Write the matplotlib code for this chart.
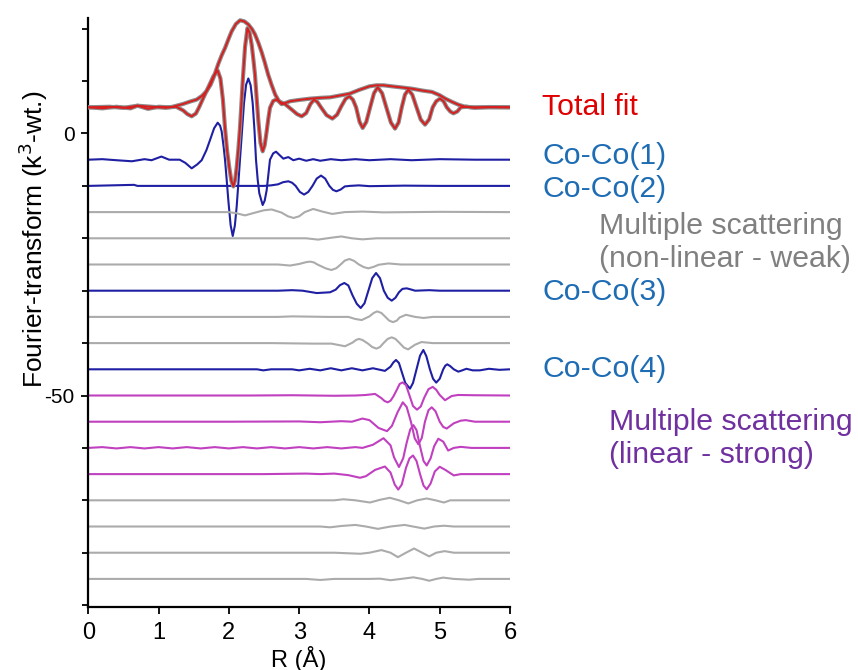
import matplotlib
matplotlib.use('Agg')
import matplotlib.pyplot as plt

plt.rcParams['font.family'] = ['Liberation Sans', 'DejaVu Sans']
plt.rcParams['axes.unicode_minus'] = False

# total fit: magnitude and imaginary part (offset +5)
mag_r = [0, 0.3, 0.5, 0.7, 0.9, 1.1, 1.2, 1.35, 1.45, 1.54, 1.62, 1.68, 1.74, 1.78, 1.85, 1.9, 1.945,
         2.0, 2.04, 2.1, 2.16, 2.22, 2.277, 2.33, 2.372, 2.42, 2.467, 2.51, 2.56, 2.61, 2.66, 2.72,
         2.75, 2.8, 2.87, 3.0, 3.155, 3.3, 3.44, 3.6, 3.72, 3.85, 4.0, 4.1, 4.2, 4.32, 4.45, 4.6,
         4.75, 4.89, 5.0, 5.08, 5.18, 5.265, 5.35, 5.45, 5.7, 6.0]
mag_y = [0, 0.1, -0.1, 0.3, 0.1, -0.1, 0.1, 0.64, 1.1, 1.46, 2.2, 3.05, 4.3, 5.6, 8.3, 10.0, 11.3,
         13.2, 14.5, 15.9, 16.6, 16.4, 15.8, 14.9, 13.9, 12.3, 10.5, 8.6, 6.2, 4.2, 2.4, 1.0,
         0.6, 0.8, 1.15, 1.4, 1.65, 1.8, 1.9, 2.3, 2.6, 3.3, 4.0, 4.2, 4.2, 4.0, 3.8, 3.56,
         3.2, 2.93, 2.3, 1.65, 1.0, 0.5, 0.15, 0, 0, 0]

im_r = [0, 0.2, 0.4, 0.6, 0.7, 0.85, 1.0, 1.15, 1.25, 1.35, 1.41, 1.471, 1.53, 1.58, 1.636, 1.7,
        1.779, 1.841, 1.88, 1.915, 1.945, 1.975, 2.007, 2.035, 2.064, 2.09, 2.11, 2.135, 2.158,
        2.18, 2.197, 2.23, 2.264, 2.295, 2.325, 2.35, 2.372, 2.395, 2.42, 2.45, 2.481, 2.51,
        2.538, 2.56, 2.585, 2.63, 2.671, 2.75, 2.8, 2.9, 2.97, 3.036, 3.1, 3.16, 3.211, 3.26,
        3.31, 3.39, 3.473, 3.54, 3.6, 3.66, 3.714, 3.765, 3.81, 3.86, 3.904, 3.955, 4.01, 4.065,
        4.117, 4.18, 4.24, 4.305, 4.364, 4.415, 4.46, 4.505, 4.553, 4.61, 4.67, 4.73, 4.791,
        4.85, 4.9, 4.95, 5.004, 5.055, 5.1, 5.15, 5.194, 5.25, 5.3, 5.384, 5.5, 5.7, 6.0]
im_y = [0, -0.2, 0.1, -0.2, 0.3, -0.3, 0.1, 0, 0.1, -0.6, -1.3, -1.72, -1.2, 0.1, 1.78, 3.6,
        5.9, 7.0, 5.5, 1.5, -3.94, -8.3, -11.6, -14.0, -15.1, -13.8, -11.6, -8.0, -3.94,
        1.0, 4.96, 11.5, 15.1, 14.2, 11.9, 9.0, 6.2, 1.8, -2.67, -6.8, -8.4, -7.2,
        -4.58, -2.3, -0.1, 1.2, 1.46, 0.9, 0.6, -0.5, -1.3, -1.72, -1.1, 0.6, 1.46, 1.0,
        0, -1.5, -2.16, -1.4, 0.2, 1.6, 2.1, 1.45, 0, -2.8, -3.94, -2.8, 0, 2.7,
        3.82, 2.7, 0, -2.9, -4.07, -2.9, 0, 2.4, 3.37, 2.4, 0, -2.35, -3.31,
        -2.3, 0, 1.15, 1.65, 1.15, 0, -0.8, -1.15, -0.8, 0, 0.1, -0.1, 0.05, 0]

# single-path contributions
coco1_r = [0, 0.2, 0.4, 0.62, 0.8, 0.9, 1.04, 1.15, 1.3, 1.38, 1.471, 1.55, 1.613, 1.68, 1.732, 1.79,
           1.841, 1.875, 1.898, 1.925, 1.945, 1.97, 1.992, 2.025, 2.055, 2.085, 2.111, 2.135,
           2.158, 2.19, 2.215, 2.245, 2.277, 2.31, 2.339, 2.365, 2.386, 2.41, 2.433, 2.481,
           2.51, 2.538, 2.585, 2.63, 2.671, 2.72, 2.775, 2.846, 2.917, 3.0, 3.1, 3.2, 3.3, 3.45,
           3.6, 3.8, 4.0, 4.3, 4.6, 5.0, 5.5, 6.0]
coco1_y = [0, 0.1, -0.1, -0.3, 0.1, -0.1, 0.6, 0, 0, -0.6, -1.65, -0.9, -0.1, 1.8, 3.76, 6.0,
           7.06, 6.5, 5.35, 2.5, 0, -4.0, -7.7, -12.5, -14.56, -12.6, -8.97, -4.5,
           0, 6.0, 10.76, 14.3, 15.5, 14.2, 10.76, 5.5, 0, -3.8, -6.4, -8.65,
           -7.8, -5.8, 0, 1.2, 1.53, 0.9, 0.2, 0.5, -0.1, 0.2, -0.2, 0.1, -0.2, 0.1,
           -0.1, 0.1, -0.1, 0.1, -0.1, 0.1, 0, 0]

coco2_r = [0, 0.65, 0.7, 1.0, 2.5, 2.6, 2.7, 2.77, 2.846, 2.9, 2.95, 3.01, 3.07, 3.13, 3.19,
           3.25, 3.311, 3.37, 3.43, 3.48, 3.53, 3.59, 3.65, 3.72, 3.85, 4.0, 4.5, 5.0, 6.0]
coco2_y = [0, 0.2, 0, 0, 0, 0.1, 0.3, 0.7, 0.88, 0.6, 0, -1.15, -1.66, -1.15, 0,
           1.4, 1.97, 1.4, 0, -0.75, -1.03, -0.7, -0.1, 0, 0.1, -0.05, 0.05, 0, 0]

coco3_r = [0, 2.7, 2.9, 3.05, 3.25, 3.44, 3.52, 3.58, 3.643, 3.7, 3.76, 3.82, 3.876, 3.93,
           3.985, 4.04, 4.094, 4.15, 4.205, 4.26, 4.317, 4.37, 4.42, 4.47, 4.53, 4.6, 4.65,
           4.85, 5.0, 6.0]
coco3_y = [0, 0, 0.1, 0, -0.45, -0.3, 0.2, 1.05, 1.47, 1.0, -0.9, -2.5, -3.3, -2.4,
           0, 2.4, 3.38, 2.4, 0, -1.35, -1.9, -1.35, -0.3, 0.35, 0.45, 0.2, 0,
           0.1, 0, 0]

coco4_r = [0, 2.4, 2.49, 2.6, 2.9, 3.0, 3.15, 3.3, 3.45, 3.6, 3.75, 3.9, 4.05, 4.22, 4.3,
           4.34, 4.378, 4.42, 4.46, 4.51, 4.577, 4.62, 4.67, 4.72, 4.767, 4.81, 4.86, 4.905,
           4.95, 5.0, 5.05, 5.08, 5.108, 5.15, 5.2, 5.265, 5.32, 5.38, 5.47, 5.57, 5.7, 5.85, 6.0]
coco4_y = [0, 0, -0.2, 0, 0, -0.2, 0.1, -0.2, 0.2, -0.2, 0.2, -0.2, 0.2, -0.3, 0.5,
           1.3, 1.78, 1.2, -0.5, -2.6, -3.69, -2.6, 0, 2.6, 3.69, 2.5, 0, -1.8,
           -2.54, -1.8, 0, 0.7, 0.95, 0.6, 0, -0.45, -0.2, 0.1, -0.2, -0.2, 0.1, -0.1, 0]

# multiple scattering, non-linear (weak)
ms15_r = [0, 1.0, 2.0, 2.1, 2.23, 2.4, 2.5, 2.61, 2.75, 2.84, 2.92, 3.0, 3.08, 3.2, 3.33, 3.47, 3.65,
          3.9, 4.2, 5.0, 6.0]
ms15_y = [0, 0, 0, -0.2, -0.63, 0, 0.35, 0.5, -0.1, -0.8, -1.12, -0.8, 0, 0.6, 0.1, -0.35, 0,
          0.1, -0.05, 0.05, 0]

ms20_r = [0, 3.1, 3.27, 3.45, 3.6, 3.75, 3.9, 4.1, 6.0]
ms20_y = [0, 0, -0.25, 0.1, 0.35, 0, -0.2, 0, 0]

ms25_r = [0, 2.7, 2.87, 3.0, 3.1, 3.155, 3.21, 3.26, 3.38, 3.46, 3.53, 3.59, 3.65, 3.714, 3.78,
          3.85, 3.92, 3.985, 4.06, 4.13, 4.27, 4.45, 6.0]
ms25_y = [0, 0, -0.2, 0.1, 0.45, 0.55, 0.4, 0, -0.75, -1.05, -0.7, 0, 0.75, 1.05, 0.7,
          0, -0.5, -0.73, -0.45, -0.05, 0.2, 0, 0]

ms35_r = [0, 2.7, 2.9, 3.4, 3.7, 3.8, 3.89, 4.0, 4.06, 4.11, 4.17, 4.22, 4.28, 4.335, 4.39,
          4.43, 4.52, 4.65, 4.77, 4.9, 6.0]
ms35_y = [0, 0, 0.1, 0, 0, -0.4, -0.6, 0.1, 0.75, 1.05, 0.75, 0.1, -0.7, -1.0, -0.7,
          -0.1, 0.4, 0, -0.2, 0, 0]

ms40_r = [0, 2.6, 3.2, 3.46, 3.653, 3.76, 3.81, 3.85, 3.9, 3.98, 4.04, 4.1, 4.15, 4.2, 4.26,
          4.317, 4.37, 4.43, 4.49, 4.55, 4.65, 4.74, 4.9, 6.0]
ms40_y = [0, 0, -0.1, -0.1, -0.6, 0.1, 0.6, 0.8, 0.6, -0.1, -0.75, -1.05, -0.75, 0, 0.8,
          1.1, 0.8, 0, -0.85, -1.2, -0.3, 0.2, 0, 0]

# multiple scattering, linear (strong)
ms50_r = [0, 2.3, 2.9, 3.5, 3.8, 3.95, 4.08, 4.17, 4.215, 4.26, 4.3, 4.34, 4.39, 4.43, 4.47,
          4.52, 4.57, 4.62, 4.677, 4.73, 4.78, 4.84, 4.9, 4.95, 5.0, 5.075, 5.17, 5.26, 5.5, 6.0]
ms50_y = [0, 0, 0.05, -0.05, 0, 0.1, 0.3, -0.5, -1.05, -1.3, -1.0, -0.2, 1.1, 2.2, 2.5,
          2.0, 0, -2.0, -2.7, -2.1, -0.4, 1.2, 1.65, 1.1, 0.1, -0.9, -0.1, 0.1, 0.05, 0]

ms55_r = [0, 2.0, 3.0, 3.3, 3.6, 3.75, 3.9, 4.0, 4.13, 4.25, 4.32, 4.4, 4.475, 4.53, 4.59,
          4.645, 4.696, 4.745, 4.79, 4.84, 4.886, 4.94, 5.0, 5.05, 5.1, 5.2, 5.3, 5.37, 5.5, 6.0]
ms55_y = [0, 0, 0.05, -0.1, 0.1, 0, 0.6, 0.3, -1.2, -1.8, -0.8, 1.8, 3.7, 2.8, 0,
          -3.2, -4.3, -3.1, 0, 2.2, 2.75, 2.0, 0, -1.0, -1.3, -0.3, 0.2, 0.3, 0, 0]

ms60_r = [0, 0.2, 0.4, 0.6, 0.8, 1.0, 1.2, 1.4, 1.6, 1.8, 2.0, 2.2, 2.4, 2.6, 2.8, 3.0, 3.2,
          3.4, 3.6, 3.8, 3.9, 4.05, 4.2, 4.3, 4.35, 4.42, 4.48, 4.53, 4.58, 4.625, 4.67, 4.72,
          4.77, 4.815, 4.87, 4.92, 4.98, 5.05, 5.12, 5.2, 5.3, 5.45, 6.0]
ms60_y = [0, 0.15, -0.1, 0.15, -0.1, 0.15, -0.1, 0.15, -0.1, 0.15, -0.1, 0.15, -0.1, 0.15,
          -0.1, 0.15, -0.1, 0.15, -0.1, 0.15, 0, 0.6, 1.85, 0.5, -1.8, -3.65, -2.0, 1.0, 3.5,
          4.35, 3.4, 0.3, -2.5, -3.35, -2.0, 0.3, 1.75, 1.2, -0.5, 0, 0.2, 0, 0]

ms65_r = [0, 2.5, 3.1, 3.3, 3.5, 3.7, 3.866, 3.95, 4.08, 4.22, 4.3, 4.36, 4.41, 4.46, 4.52,
          4.57, 4.62, 4.67, 4.72, 4.77, 4.815, 4.87, 4.93, 5.0, 5.08, 5.2, 5.3, 6.0]
ms65_y = [0, 0, 0.1, 0, 0.1, -0.2, -0.7, -0.4, 0.8, 1.45, 0.3, -2.0, -2.95, -2.0, 1.2,
          3.0, 3.55, 2.5, 0, -2.2, -2.9, -1.8, 0.5, 1.4, 0.8, -0.25, 0, 0]

# remaining weak paths
ms70_r = [0, 3.5, 3.63, 3.8, 4.008, 4.15, 4.29, 4.42, 4.553, 4.68, 4.815, 4.94, 5.06, 5.15, 6.0]
ms70_y = [0, 0, 0.2, 0, -0.42, 0.1, 0.48, 0, -0.6, 0, 0.35, 0, -0.42, 0, 0]

ms75_r = [0, 3.3, 3.44, 3.6, 3.8, 3.95, 4.12, 4.3, 4.5, 4.62, 4.78, 4.92, 5.06, 5.2, 6.0]
ms75_y = [0, 0, -0.15, 0.1, 0.3, 0, -0.45, 0, 0.3, 0, -0.4, 0, 0.15, 0, 0]

ms80_r = [0, 3.5, 3.87, 4.0, 4.17, 4.3, 4.405, 4.52, 4.635, 4.75, 4.85, 4.95, 5.07, 5.2, 6.0]
ms80_y = [0, 0, -0.2, 0, 0.5, 0, -0.85, 0, 0.8, 0, -0.7, 0, 0.3, 0, 0]

ms85_r = [0, 3.1, 3.3, 3.5, 4.0, 4.15, 4.3, 4.45, 4.625, 4.75, 4.85, 4.95, 5.05, 5.2, 5.42, 5.55, 6.0]
ms85_y = [0, 0, -0.2, 0, 0, 0.05, -0.25, 0, 0.3, 0, -0.35, 0, 0.25, 0, -0.15, 0, 0]

total_offset = 5

navy = '#1f1fa3'
grey = '#ababab'
pink = '#c040c0'

# (r, y, offset, colour)
paths = [
    (coco1_r, coco1_y, -5, navy),
    (coco2_r, coco2_y, -10, navy),
    (ms15_r, ms15_y, -15, grey),
    (ms20_r, ms20_y, -20, grey),
    (ms25_r, ms25_y, -25, grey),
    (coco3_r, coco3_y, -30, navy),
    (ms35_r, ms35_y, -35, grey),
    (ms40_r, ms40_y, -40, grey),
    (coco4_r, coco4_y, -45, navy),
    (ms50_r, ms50_y, -50, pink),
    (ms55_r, ms55_y, -55, pink),
    (ms60_r, ms60_y, -60, pink),
    (ms65_r, ms65_y, -65, pink),
    (ms70_r, ms70_y, -70, grey),
    (ms75_r, ms75_y, -75, grey),
    (ms80_r, ms80_y, -80, grey),
    (ms85_r, ms85_y, -85, grey),
]

W, H = 858, 670
fig = plt.figure(figsize=(W / 100, H / 100), dpi=100)
ax = fig.add_axes([88.3 / W, 1 - 607 / H, (510 - 88.3) / W, (607 - 18) / H])

for r, y, off, c in paths:
    ax.plot(r, [v + off for v in y], color=c, lw=1.5, zorder=2, solid_joinstyle='round')

# data (grey, thick) under the fit (red)
ax.plot(mag_r, [v + total_offset for v in mag_y], color='#8c8c8c', lw=3.0, zorder=3)
ax.plot(im_r, [v + total_offset for v in im_y], color='#8c8c8c', lw=3.0, zorder=3)
ax.plot(mag_r, [v + total_offset for v in mag_y], color='#d81e1e', lw=1.4, zorder=4)
ax.plot(im_r, [v + total_offset for v in im_y], color='#d81e1e', lw=1.4, zorder=4)

ax.set_xlim(0, 6)
ax.set_ylim(-90.36, 22.04)
ax.set_xticks(range(0, 7))
ax.set_yticks([-50, 0])
ax.set_yticks(range(-90, 21, 10), minor=True)
ax.tick_params(axis='both', direction='out', width=1.3)
ax.tick_params(axis='x', length=5, pad=6, labelsize=17)
ax.tick_params(axis='y', which='major', length=5, pad=5, labelsize=15)
ax.tick_params(axis='y', which='minor', length=4, width=1.3)
for s in ['top', 'right']:
    ax.spines[s].set_visible(False)
for s in ['left', 'bottom']:
    ax.spines[s].set_linewidth(1.6)

ax.set_xlabel('R (Å)', fontsize=17, labelpad=1)
ax.set_ylabel('Fourier-transform (k$^3$-wt.)', fontsize=19)
ax.yaxis.set_label_coords(-0.09, 0.625)

fs = 21.8
def label(x, y, s, c):
    fig.text(x / W, 1 - y / H, s, color=c, fontsize=fs, va='baseline', ha='left')

label(542, 115, 'Total fit', '#e00000')
label(542, 164, 'Co-Co(1)', '#1e6db4')
label(542, 197, 'Co-Co(2)', '#1e6db4')
label(599, 234, 'Multiple scattering', '#808080')
label(599, 267, '(non-linear - weak)', '#808080')
label(542, 300, 'Co-Co(3)', '#1e6db4')
label(542, 377, 'Co-Co(4)', '#1e6db4')
label(609, 430, 'Multiple scattering', '#7030a0')
label(609, 463, '(linear - strong)', '#7030a0')

fig.savefig('out.png', dpi=100)
